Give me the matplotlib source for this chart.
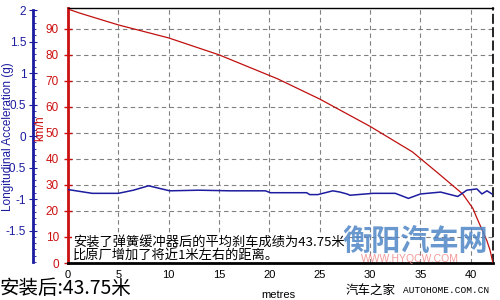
import matplotlib.pyplot as plt
from matplotlib.ticker import MultipleLocator

# speed curve (km/h vs metres)
speed_dist = [0, 1.2, 5, 10, 15, 20.8, 25, 30, 34.2, 36.6, 39.2, 40.2, 40.6, 41.6, 41.9, 42.2]
speed_kmh = [97.6, 96, 91.5, 86.5, 80, 70.8, 63, 52.5, 42.7, 35, 26.5, 21, 17.3, 8.5, 5, 0]

# longitudinal acceleration (g vs metres)
acc_dist = [0, 1.2, 2.4, 5, 6.5, 8, 10.1, 13, 16.1, 19.6, 20.1, 23.7, 24, 24.8, 26.3,
            27, 27.7, 28, 30.3, 32.5, 33.8, 35, 37, 38.7, 39.6, 40.6, 41.1, 41.6, 42.1]
acc_g = [-0.85, -0.88, -0.91, -0.91, -0.86, -0.79, -0.87, -0.86, -0.87, -0.87, -0.9,
         -0.9, -0.93, -0.93, -0.87, -0.89, -0.92, -0.94, -0.91, -0.91, -0.99, -0.92,
         -0.89, -0.96, -0.86, -0.84, -0.92, -0.87, -0.92]

x_ticks = [0, 5, 10, 15, 20, 25, 30, 35, 40]
kmh_ticks = [0, 10, 20, 30, 40, 50, 60, 70, 80, 90]
g_ticks = [-1.5, -1, -0.5, 0, 0.5, 1, 1.5, 2]
g_labels = ['-1.5', '-1', '-0.5', '0', '0.5', '1', '1.5', '2']

note_line1 = '安装了弹簧缓冲器后的平均刹车成绩为43.75米'
note_line2 = '比原厂增加了将近1米左右的距离。'
big_note = '安装后:43.75米'

cjk = ['Noto Sans CJK SC', 'DejaVu Sans']
num_font = 'Liberation Sans'
red = '#cc1010'
blue = '#1c1ca0'

fig = plt.figure(figsize=(5, 3), dpi=100)
ax = fig.add_axes([0.136, 0.1233, 0.85, 0.85])

ax.plot(speed_dist, speed_kmh, color='#c01010', lw=0.9, zorder=3)
ax.set_xlim(0, 42.2)
ax.set_ylim(0, 98)
ax.set_xticks(x_ticks)
ax.set_xticklabels([str(t) for t in x_ticks], fontsize=8, family=num_font)
ax.set_yticks(kmh_ticks)
ax.set_yticklabels([str(t) for t in kmh_ticks], fontsize=8.5, family=num_font, color=red)
ax.tick_params(axis='x', length=0, pad=5)
ax.tick_params(axis='y', direction='inout', length=6, color=red, width=1)
ax.grid(True, linestyle=(0, (4, 3)), color='#808080', lw=0.8)
ax.set_axisbelow(True)

ax.spines['left'].set_color(red)
ax.spines['left'].set_linewidth(2)
ax.spines['bottom'].set_linewidth(2)
ax.spines['top'].set_linewidth(1)
ax.spines['right'].set_linestyle((0, (5, 3)))
ax.spines['right'].set_linewidth(1.2)

ax.set_xlabel('metres', fontsize=8, family=num_font, labelpad=0)
ax.xaxis.set_label_coords(0.496, -0.105)

# acceleration axis on the far left
ax2 = ax.twinx()
ax2.plot(acc_dist, acc_g, color=blue, lw=1.1, zorder=4)
ax2.set_ylim(-2.016, 2.032)
ax2.spines['right'].set_visible(False)
ax2.spines['top'].set_visible(False)
ax2.spines['bottom'].set_visible(False)
ax2.spines['left'].set_visible(True)
ax2.spines['left'].set_position(('axes', -0.082))
ax2.spines['left'].set_bounds(-2, 2)
ax2.spines['left'].set_color(blue)
ax2.spines['left'].set_linewidth(2)
ax2.yaxis.set_ticks_position('left')
ax2.set_yticks(g_ticks)
ax2.set_yticklabels(g_labels, fontsize=8.5, family=num_font, color=blue)
ax2.yaxis.set_minor_locator(MultipleLocator(0.1))
ax2.tick_params(axis='y', which='major', direction='inout', length=6, color=blue, pad=2)
ax2.tick_params(axis='y', which='minor', direction='in', length=2, color=blue)

# axis titles
fig.text(0.017, 0.545, 'Longitudinal Acceleration (g)', rotation=90, color=blue,
         fontsize=8.5, family=num_font, ha='center', va='center')
fig.text(0.081, 0.573, 'km/h', rotation=90, color=red,
         fontsize=8.5, family=num_font, ha='center', va='center')

# notes
fig.text(0.146, 0.128, note_line1 + '\n' + note_line2, family=cjk, fontsize=9.5,
         linespacing=1.0, va='bottom', ha='left',
         bbox=dict(facecolor='white', edgecolor='none', pad=0.5), zorder=10)
fig.text(0.0, 0.005, big_note, family=cjk, fontsize=14, va='bottom', ha='left')
fig.text(0.692, 0.012, '汽车之家', family=cjk, fontsize=9, va='bottom', ha='left')
fig.text(0.806, 0.016, 'AUTOHOME.COM.CN', family='Liberation Mono', fontsize=6.8,
         va='bottom', ha='left')

# watermark
fig.text(0.83, 0.198, '衡阳汽车网', family=cjk, fontsize=21, fontweight='bold',
         style='italic', color='#4f86c6', alpha=0.85, ha='center', va='center', zorder=11)
fig.text(0.82, 0.138, 'WWW.HYQCW.COM', family=num_font, fontsize=7.5,
         color='#f08080', alpha=0.8, ha='center', va='center', zorder=11)

fig.savefig('out.png', dpi=100)
